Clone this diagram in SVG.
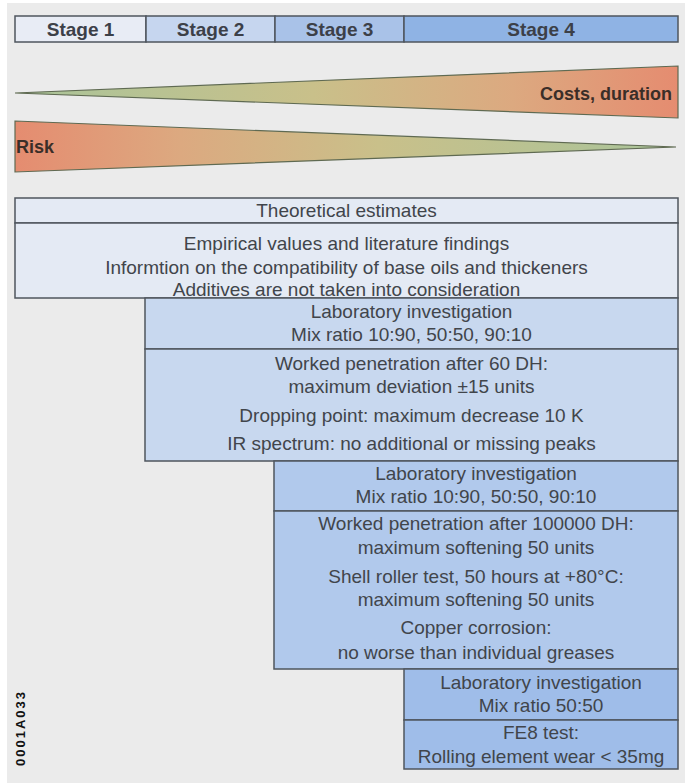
<svg xmlns="http://www.w3.org/2000/svg" width="685" height="783" viewBox="0 0 685 783">
  <defs>
    <linearGradient id="gradCost" x1="15" y1="0" x2="678" y2="0" gradientUnits="userSpaceOnUse">
      <stop offset="0" stop-color="#a9c49a"/>
      <stop offset="0.45" stop-color="#c9c08a"/>
      <stop offset="0.75" stop-color="#dca980"/>
      <stop offset="1" stop-color="#e58c70"/>
    </linearGradient>
    <linearGradient id="gradRisk" x1="676" y1="0" x2="15" y2="0" gradientUnits="userSpaceOnUse">
      <stop offset="0" stop-color="#a9c49a"/>
      <stop offset="0.45" stop-color="#c9c08a"/>
      <stop offset="0.75" stop-color="#dca980"/>
      <stop offset="1" stop-color="#e58c70"/>
    </linearGradient>
    <style>
      .bg { fill: #ebebeb; }
      .box { stroke: #4f565e; stroke-width: 1.5; }
      .s1 { fill: #e8ecf5; }
      .s2 { fill: #c6d6ef; }
      .s3 { fill: #a9c2e8; }
      .s4 { fill: #8fb3e4; }
      .b0 { fill: #e4eaf4; }
      .b1 { fill: #c8d8ef; }
      .b2 { fill: #b1c9ec; }
      .b3 { fill: #9fbde9; }
      .wedge { stroke: #5f6a52; stroke-width: 1.2; }
      text { font-family: "Liberation Sans", Arial, sans-serif; fill: #41454b; }
      .stage { font-size: 19px; font-weight: bold; text-anchor: middle; fill: #3c4048; }
      .lbl { font-size: 19px; text-anchor: middle; }
      .wlbl { font-size: 18px; font-weight: bold; fill: #3a2e28; }
      .code { font-size: 13px; font-weight: bold; letter-spacing: 2px; fill: #111; }
    </style>
  </defs>

  <!-- page background -->
  <rect class="bg" x="7" y="3" width="678" height="780"/>

  <!-- stage header bar -->
  <g id="stage1">
    <rect class="box s1" x="15" y="16" width="131" height="26"/>
    <text class="stage" x="80.5" y="36">Stage 1</text>
  </g>
  <g id="stage2">
    <rect class="box s2" x="146" y="16" width="129" height="26"/>
    <text class="stage" x="210.5" y="36">Stage 2</text>
  </g>
  <g id="stage3">
    <rect class="box s3" x="275" y="16" width="129" height="26"/>
    <text class="stage" x="339.5" y="36">Stage 3</text>
  </g>
  <g id="stage4">
    <rect class="box s4" x="404" y="16" width="274" height="26"/>
    <text class="stage" x="541" y="36">Stage 4</text>
  </g>

  <!-- trend wedges -->
  <g id="costs">
    <polygon class="wedge" points="15,93 678,66 678,118" fill="url(#gradCost)"/>
    <text class="wlbl" x="672" y="100" text-anchor="end">Costs, duration</text>
  </g>
  <g id="risk">
    <polygon class="wedge" points="15,121 676,147 15,172" fill="url(#gradRisk)"/>
    <text class="wlbl" x="16" y="153">Risk</text>
  </g>

  <!-- stage 1: desk study -->
  <g id="theory">
    <rect class="box b0" x="15" y="198" width="663" height="25"/>
    <text class="lbl" x="346.5" y="217">Theoretical estimates</text>
  </g>
  <g id="empirical">
    <rect class="box b0" x="15" y="223" width="663" height="75"/>
    <text class="lbl" x="346.5" y="250">Empirical values and literature findings</text>
    <text class="lbl" x="346.5" y="274">Informtion on the compatibility of base oils and thickeners</text>
    <text class="lbl" x="346.5" y="296">Additives are not taken into consideration</text>
  </g>

  <!-- stage 2 -->
  <g id="lab1">
    <rect class="box b1" x="145" y="298" width="533" height="51"/>
    <text class="lbl" x="411.5" y="318">Laboratory investigation</text>
    <text class="lbl" x="411.5" y="341">Mix ratio 10:90, 50:50, 90:10</text>
  </g>
  <g id="criteria1">
    <rect class="box b1" x="145" y="349" width="533" height="112"/>
    <text class="lbl" x="411.5" y="370">Worked penetration after 60 DH:</text>
    <text class="lbl" x="411.5" y="393">maximum deviation ±15 units</text>
    <text class="lbl" x="411.5" y="422">Dropping point: maximum decrease 10 K</text>
    <text class="lbl" x="411.5" y="450">IR spectrum: no additional or missing peaks</text>
  </g>

  <!-- stage 3 -->
  <g id="lab2">
    <rect class="box b2" x="274" y="461" width="404" height="50"/>
    <text class="lbl" x="476" y="480">Laboratory investigation</text>
    <text class="lbl" x="476" y="503">Mix ratio 10:90, 50:50, 90:10</text>
  </g>
  <g id="criteria2">
    <rect class="box b2" x="274" y="511" width="404" height="158"/>
    <text class="lbl" x="476" y="530">Worked penetration after 100000 DH:</text>
    <text class="lbl" x="476" y="554">maximum softening 50 units</text>
    <text class="lbl" x="476" y="583">Shell roller test, 50 hours at +80°C:</text>
    <text class="lbl" x="476" y="606">maximum softening 50 units</text>
    <text class="lbl" x="476" y="634">Copper corrosion:</text>
    <text class="lbl" x="476" y="659">no worse than individual greases</text>
  </g>

  <!-- stage 4 -->
  <g id="lab3">
    <rect class="box b3" x="404" y="669" width="274" height="51"/>
    <text class="lbl" x="541" y="689">Laboratory investigation</text>
    <text class="lbl" x="541" y="712">Mix ratio 50:50</text>
  </g>
  <g id="criteria3">
    <rect class="box b3" x="404" y="720" width="274" height="49"/>
    <text class="lbl" x="541" y="739">FE8 test:</text>
    <text class="lbl" x="541" y="763">Rolling element wear &lt; 35mg</text>
  </g>

  <!-- figure code -->
  <text class="code" transform="translate(25 766) rotate(-90)">0001A033</text>
</svg>
